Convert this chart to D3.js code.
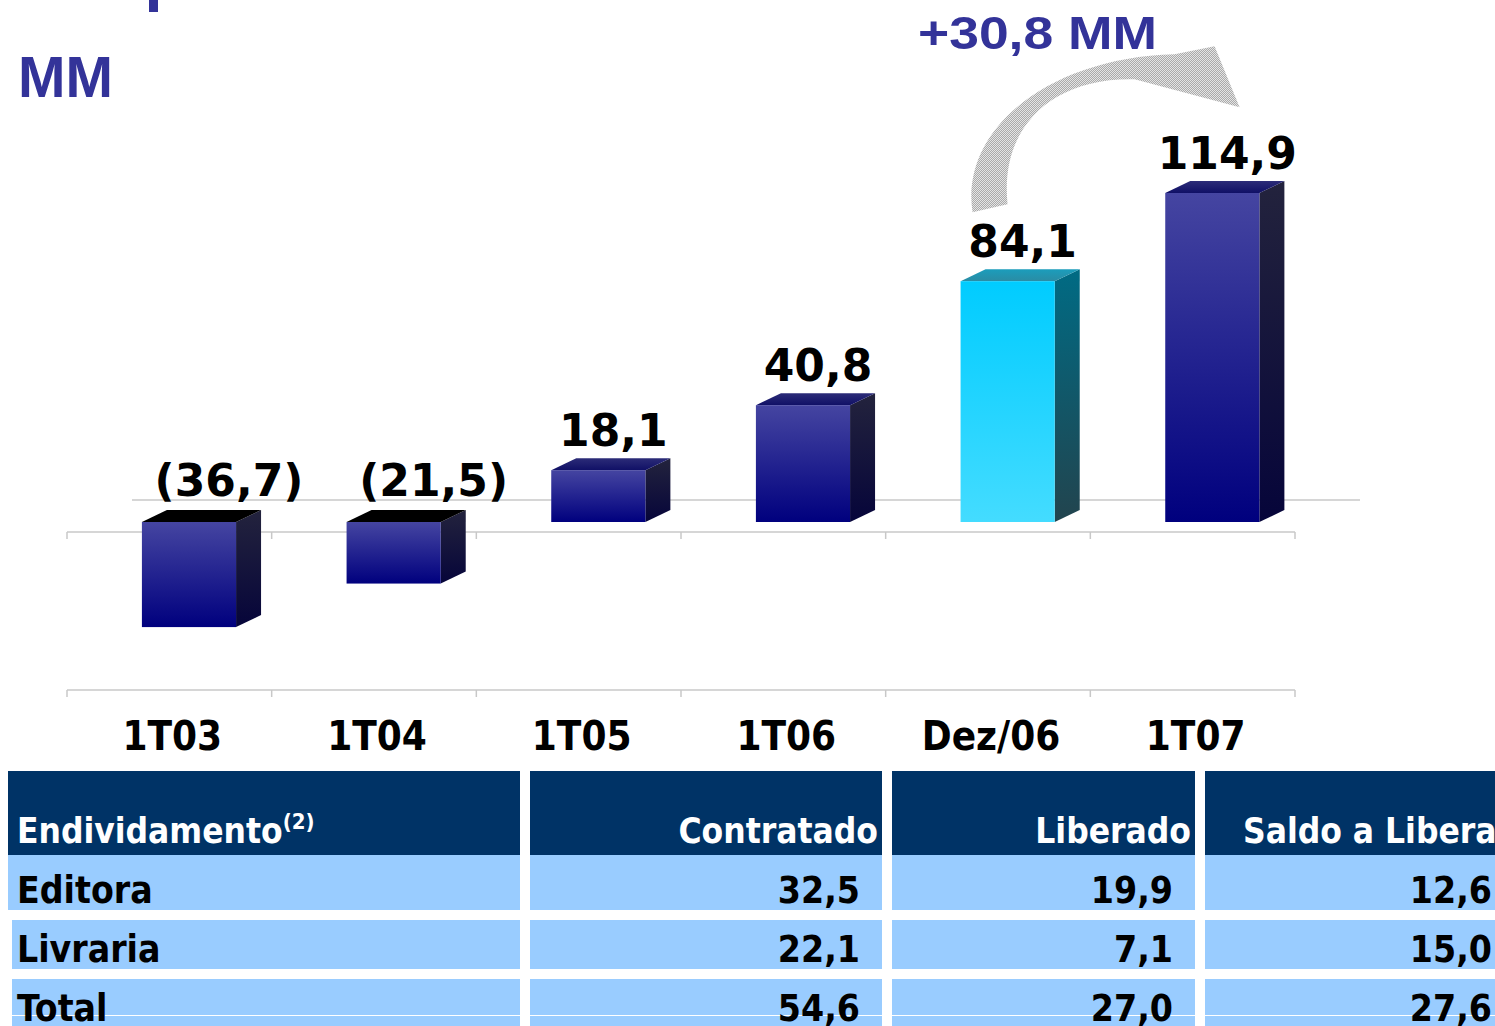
<!DOCTYPE html>
<html>
<head>
<meta charset="utf-8">
<script src="https://cdn.jsdelivr.net/npm/d3@7/dist/d3.min.js"></script>
<style>
  html, body { margin: 0; padding: 0; background: #ffffff; }
  svg { display: block; }
</style>
</head>
<body>
<div id="chart"></div>
<script>
/* ── Data ─────────────────────────────────────────────────────────────── */
const categories = ['1T03', '1T04', '1T05', '1T06', 'Dez/06', '1T07'];
const values = [-36.7, -21.5, 18.1, 40.8, 84.1, 114.9];
const highlighted = 'Dez/06';
const titleText = 'MM';
const changeText = '+30,8 MM';

const tableHeader = ['Endividamento', 'Contratado', 'Liberado', 'Saldo a Liberar'];
const headerNote = '(2)';
const rowNames = ['Editora', 'Livraria', 'Total'];
const contratado = [32.5, 22.1, 54.6];
const liberado = [19.9, 7.1, 27.0];
const saldo = [12.6, 15.0, 27.6];

(function () {
  const TW = 1495, TH = 1026;
  const DX = 25, DY = 12;          // 3D depth offsets
  const fmt = v => d3.format('.1f')(v).replace('.', ',');
  const label = v => v < 0 ? `(${fmt(-v)})` : fmt(v);

  const svg = d3.select('#chart').append('svg')
    .attr('width', TW).attr('height', TH);
  svg.append('rect').attr('width', TW).attr('height', TH).attr('fill', '#ffffff');

  const defs = svg.append('defs');
  function vGrad(id, top, bottom) {
    const g = defs.append('linearGradient').attr('id', id)
      .attr('x1', 0).attr('y1', 0).attr('x2', 0).attr('y2', 1);
    g.append('stop').attr('offset', '0%').attr('stop-color', top);
    g.append('stop').attr('offset', '100%').attr('stop-color', bottom);
  }
  vGrad('blueFront', '#4545a1', '#00007e');
  vGrad('blueSide', '#23233d', '#06053a');
  vGrad('blueTop', '#2c2c78', '#101066');
  vGrad('cyanFront', '#00ccff', '#44dcff');
  vGrad('cyanSide', '#006b84', '#22444e');
  vGrad('cyanTop', '#1b9dbc', '#2a8ca4');

  // dithered grey fill for the arrow
  const pat = defs.append('pattern').attr('id', 'dots')
    .attr('width', 2).attr('height', 2).attr('patternUnits', 'userSpaceOnUse');
  pat.append('rect').attr('width', 2).attr('height', 2).attr('fill', '#aaaaaa');
  pat.append('rect').attr('width', 1).attr('height', 1).attr('fill', '#e4e4e4');
  pat.append('rect').attr('x', 1).attr('y', 1).attr('width', 1).attr('height', 1).attr('fill', '#e4e4e4');

  /* ── Scales ─────────────────────────────────────────────────────────── */
  const x = d3.scaleBand().domain(categories).range([67, 1295]);
  const y = d3.scaleLinear().domain([0, d3.max(values)]).range([522, 193]);
  const bw = x.bandwidth();
  const frontW = bw * 0.46;
  const left = c => x(c) + bw * 0.366;
  const edges = categories.map(c => x(c)).concat([x.range()[1]]);

  /* ── Grid / axis lines ──────────────────────────────────────────────── */
  const grey = '#c8c8c8';
  svg.append('line')
    .attr('x1', x.range()[0] + 65).attr('x2', x.range()[1] + 65)
    .attr('y1', y(0) - 22).attr('y2', y(0) - 22)
    .attr('stroke', grey).attr('stroke-width', 1.5);

  [y(0) + 10, 690].forEach(ly => {
    svg.append('line')
      .attr('x1', x.range()[0]).attr('x2', x.range()[1])
      .attr('y1', ly).attr('y2', ly)
      .attr('stroke', grey).attr('stroke-width', 1.5);
    svg.selectAll(null).data(edges).join('line')
      .attr('x1', d => d).attr('x2', d => d)
      .attr('y1', ly).attr('y2', ly + 7)
      .attr('stroke', grey).attr('stroke-width', 1.5);
  });

  /* ── 3D bars ────────────────────────────────────────────────────────── */
  const bars = svg.selectAll('g.bar')
    .data(categories.map((c, i) => ({ c, v: values[i] })))
    .join('g').attr('class', 'bar');

  bars.each(function (d) {
    const g = d3.select(this);
    const x0 = left(d.c), x1 = x0 + frontW;
    const yt = Math.min(y(0), y(d.v)), yb = Math.max(y(0), y(d.v));
    const hi = d.c === highlighted;
    const pts = a => a.map(p => p.join(',')).join(' ');

    g.append('polygon')
      .attr('points', pts([[x1, yt], [x1 + DX, yt - DY], [x1 + DX, yb - DY], [x1, yb]]))
      .attr('fill', hi ? 'url(#cyanSide)' : 'url(#blueSide)');
    g.append('polygon')
      .attr('points', pts([[x0, yt], [x0 + DX, yt - DY], [x1 + DX, yt - DY], [x1, yt]]))
      .attr('fill', d.v < 0 ? '#000000' : (hi ? 'url(#cyanTop)' : 'url(#blueTop)'));
    g.append('rect')
      .attr('x', x0).attr('y', yt)
      .attr('width', frontW).attr('height', yb - yt)
      .attr('fill', hi ? 'url(#cyanFront)' : 'url(#blueFront)');
  });

  /* ── Value labels ───────────────────────────────────────────────────── */
  svg.selectAll('text.val')
    .data(categories.map((c, i) => ({ c, v: values[i] })))
    .join('text').attr('class', 'val')
    .attr('x', d => left(d.c) + frontW / 2 + (d.v < 0 ? 40 : 15))
    .attr('y', d => d.v < 0 ? y(0) - 26 : y(d.v) - 24)
    .attr('text-anchor', 'middle')
    .attr('font-family', 'DejaVu Sans, Verdana, sans-serif')
    .attr('font-weight', 'bold')
    .attr('font-size', 44)
    .attr('fill', '#000000')
    .text(d => label(d.v));

  /* ── Category labels ────────────────────────────────────────────────── */
  svg.selectAll('text.cat')
    .data(categories)
    .join('text').attr('class', 'cat')
    .attr('x', d => x(d) + bw / 2 + 3)
    .attr('y', 750)
    .attr('text-anchor', 'middle')
    .attr('font-family', 'DejaVu Sans Condensed, DejaVu Sans, sans-serif')
    .attr('font-weight', 'bold')
    .attr('font-size', 40)
    .attr('fill', '#000000')
    .text(d => d);

  /* ── Titles ─────────────────────────────────────────────────────────── */
  svg.append('rect').attr('x', 149).attr('y', 0).attr('width', 9).attr('height', 12)
    .attr('fill', '#333399');
  svg.append('text')
    .attr('x', 18).attr('y', 97)
    .attr('font-family', 'Liberation Sans, Arial, sans-serif')
    .attr('font-weight', 'bold').attr('font-size', 57)
    .attr('fill', '#333399')
    .text(titleText);

  /* ── Growth arrow (Dez/06 → 1T07) ───────────────────────────────────── */
  const ax = left(highlighted), ay = y(values[categories.indexOf(highlighted)]) - DY;
  const P = (dx, dy) => `${ax + dx},${ay + dy}`;
  svg.append('path')
    .attr('d', `M${P(12, -57)} C${P(-1, -140)} ${P(89, -212)} ${P(214, -215)}` +
      ` L${P(254, -223)} L${P(279, -162)} L${P(174, -190)}` +
      ` C${P(89, -192)} ${P(39, -140)} ${P(47, -65)} Z`)
    .attr('fill', 'url(#dots)');

  svg.append('text')
    .attr('x', 918).attr('y', 49)
    .attr('font-family', 'Liberation Sans, Arial, sans-serif')
    .attr('font-weight', 'bold').attr('font-size', 47)
    .attr('textLength', 239).attr('lengthAdjust', 'spacingAndGlyphs')
    .attr('fill', '#333399')
    .text(changeText);

  /* ── Table ──────────────────────────────────────────────────────────── */
  const colX = [8, 530, 892, 1205];
  const colR = [520, 882, 1195, 1520];
  const tFont = 'DejaVu Sans Condensed, DejaVu Sans, sans-serif';
  const headTop = 771, headBot = 855;
  const rowTop = [855, 920, 979];
  const rowBot = [910, 969, 1040];
  const rowBase = [903, 962, 1021];
  const cols = [contratado, liberado, saldo];

  colX.forEach((cx, j) => {
    svg.append('rect').attr('x', cx).attr('y', headTop)
      .attr('width', colR[j] - cx).attr('height', headBot - headTop)
      .attr('fill', '#003366');
    rowNames.forEach((_, i) => {
      const rx = (j === 0 && i > 0) ? cx + 4 : cx;
      svg.append('rect').attr('x', rx).attr('y', rowTop[i])
        .attr('width', colR[j] - rx).attr('height', rowBot[i] - rowTop[i])
        .attr('fill', '#99ccff');
    });
  });
  svg.append('line').attr('x1', 0).attr('x2', TW).attr('y1', 1015.5).attr('y2', 1015.5)
    .attr('stroke', '#ffffff').attr('stroke-width', 1);

  // header texts
  const h0 = svg.append('text').attr('x', 17).attr('y', 843)
    .attr('font-family', tFont).attr('font-weight', 'bold').attr('font-size', 35)
    .attr('fill', '#ffffff');
  h0.append('tspan').text(tableHeader[0]);
  h0.append('tspan').attr('dy', -14).attr('font-size', 22).text(headerNote);

  tableHeader.slice(1).forEach((h, k) => {
    const j = k + 1;
    svg.append('text')
      .attr('x', j === 3 ? 1243 : colR[j] - 4).attr('y', 843)
      .attr('text-anchor', j === 3 ? 'start' : 'end')
      .attr('font-family', tFont).attr('font-weight', 'bold').attr('font-size', 35)
      .attr('fill', '#ffffff')
      .text(h);
  });

  rowNames.forEach((r, i) => {
    svg.append('text').attr('x', 17).attr('y', rowBase[i])
      .attr('font-family', tFont).attr('font-weight', 'bold').attr('font-size', 37)
      .attr('fill', '#000000').text(r);
    cols.forEach((col, k) => {
      svg.append('text')
        .attr('x', k === 2 ? 1492 : colR[k + 1] - 22).attr('y', rowBase[i])
        .attr('text-anchor', 'end')
        .attr('font-family', tFont).attr('font-weight', 'bold').attr('font-size', 37)
        .attr('fill', '#000000').text(fmt(col[i]));
    });
  });
})();
</script>
</body>
</html>
